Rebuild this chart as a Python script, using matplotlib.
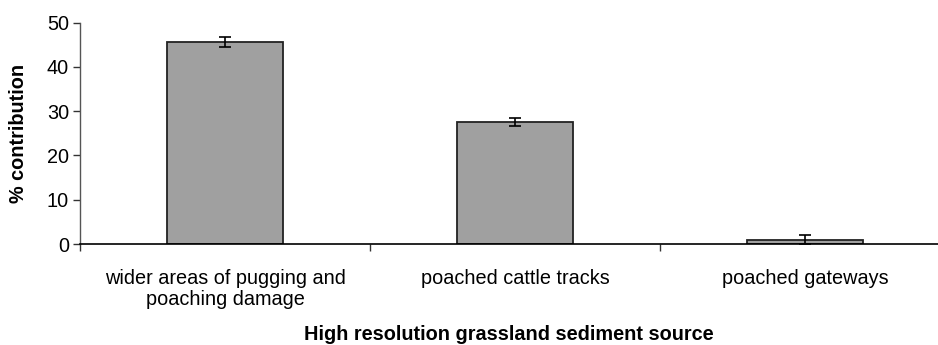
import matplotlib
matplotlib.use("Agg")
import matplotlib.pyplot as plt
import numpy as np

categories = ["wider areas of pugging and\npoaching damage", "poached cattle tracks", "poached gateways"]
values = [45.6, 27.6, 1.0]
errors = [1.1, 0.9, 1.1]
yticks = [0, 10, 20, 30, 40, 50]

plt.rcParams['font.family'] = ['Liberation Sans', 'DejaVu Sans']

W, H = 938, 345
fig = plt.figure(figsize=(W/100, H/100), dpi=100)
left, right = 80, 950
bottom, top = 244, 22.7
ax = fig.add_axes([left/W, (H-bottom)/H, (right-left)/W, (bottom-top)/H])
ax.patch.set_alpha(0)

x = np.arange(len(categories))
ax.bar(x, values, width=116.7/290, color='#a0a0a0', edgecolor='#222222', linewidth=1.3, zorder=2)
ax.errorbar(x, values, yerr=errors, fmt='none', ecolor='black', elinewidth=1.2,
            capsize=4.3, capthick=1.2, zorder=3)

ax.set_xlim(-0.5, 2.5)
ax.set_ylim(0, 50)
ax.set_yticks(yticks)
ax.set_xticks(x)
ax.set_xticklabels(categories, fontsize=14.3, linespacing=1.15)
ax.set_xticks([-0.5, 0.5, 1.5], minor=True)
ax.tick_params(axis='x', which='major', length=0, pad=18)
ax.tick_params(axis='x', which='minor', length=5, width=1, color='#333333')
ax.tick_params(axis='y', length=5, width=1, labelsize=14.3, pad=3, color='#333333')
for s in ['top', 'right']:
    ax.spines[s].set_visible(False)
ax.spines['left'].set_color('#555555')
ax.spines['left'].set_linewidth(1)
ax.spines['bottom'].set_color('black')
ax.spines['bottom'].set_linewidth(1.2)
ax.spines['bottom'].set_zorder(4)

fig.text(18/W, 1 - 133/H, '% contribution', rotation=90, ha='center', va='center',
         fontsize=14.3, fontweight='bold')
fig.text(509/W, 1 - 334/H, 'High resolution grassland sediment source', ha='center', va='center',
         fontsize=14.3, fontweight='bold')

fig.savefig('out.png', dpi=100)
